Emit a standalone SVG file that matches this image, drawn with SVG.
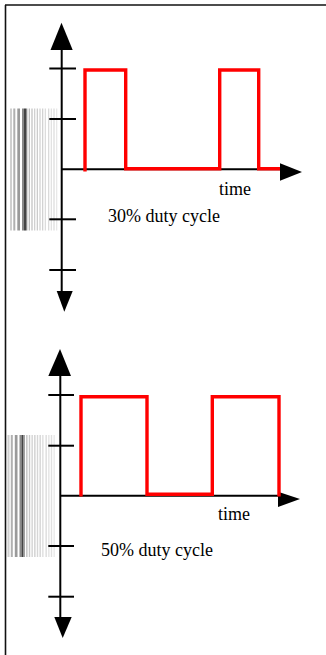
<svg xmlns="http://www.w3.org/2000/svg" width="326" height="655" viewBox="0 0 326 655">
  <style>
    .frame { stroke: #111; stroke-width: 1.6; fill: none; }
    .axis { stroke: #000; stroke-width: 2; fill: none; }
    .head { fill: #000; }
    .wave { stroke: #ff0000; stroke-width: 3.4; fill: none; stroke-linejoin: miter; stroke-linecap: butt; }
    .label { font-family: "Liberation Serif", "Times New Roman", serif; font-size: 18px; fill: #000; }
  </style>
  <defs>
    <!-- grey level strip beside the amplitude axis -->
    <g id="strip">
      <rect x="0" y="0" width="2" height="122" fill="#cfcfcf"/>
      <rect x="3.3" y="0" width="2" height="122" fill="#b0b0b0"/>
      <rect x="7.3" y="0" width="2.7" height="122" fill="#9a9a9a"/>
      <rect x="12" y="0" width="2" height="122" fill="#8a8a8a"/>
      <rect x="14" y="0" width="2" height="122" fill="#444"/>
      <rect x="16" y="0" width="1.3" height="122" fill="#8a8a8a"/>
      <rect x="18.7" y="0" width="1.3" height="122" fill="#bdbdbd"/>
      <rect x="21.3" y="0" width="1.4" height="122" fill="#c8c8c8"/>
      <rect x="24" y="0" width="1.3" height="122" fill="#d0d0d0"/>
      <rect x="26.7" y="0" width="1.3" height="122" fill="#cccccc"/>
      <rect x="29.3" y="0" width="1.4" height="122" fill="#d6d6d6"/>
      <rect x="32" y="0" width="1.3" height="122" fill="#d2d2d2"/>
      <rect x="34.7" y="0" width="1.3" height="122" fill="#dcdcdc"/>
      <rect x="38" y="0" width="1.3" height="122" fill="#dadada"/>
      <rect x="40.7" y="0" width="1.3" height="122" fill="#e2e2e2"/>
      <rect x="43.3" y="0" width="1.4" height="122" fill="#e0e0e0"/>
      <rect x="46" y="0" width="1.3" height="122" fill="#e8e8e8"/>
    </g>
  </defs>

  <!-- outer frame -->
  <g id="frame">
    <line class="frame" x1="5" y1="5" x2="326" y2="5"/>
    <line class="frame" x1="5.5" y1="5" x2="5.5" y2="655"/>
  </g>

  <!-- upper plot: 30% duty cycle -->
  <g id="strip-30">
    <use href="#strip" x="10" y="108.5"/>
  </g>
  <g id="axes-30">
    <line class="axis" x1="61.7" y1="45" x2="61.7" y2="295"/>
    <polygon class="head" points="61.5,22.7 50.5,50 72.7,50"/>
    <polygon class="head" points="64.3,311.7 56.7,291 72.7,291"/>
    <line class="axis" x1="49.3" y1="68.5" x2="76" y2="68.5"/>
    <line class="axis" x1="49.3" y1="119" x2="76" y2="119"/>
    <line class="axis" x1="49.3" y1="219.3" x2="76" y2="219.3"/>
    <line class="axis" x1="49.3" y1="270" x2="76" y2="270"/>
    <line class="axis" x1="61.7" y1="169.3" x2="282" y2="169.3"/>
    <polygon class="head" points="302,172 280,163.3 280,180.7"/>
  </g>
  <g id="wave-30">
    <path class="wave" d="M85,171.5 V70 H125.7 V168.8 H219.7 V70 H258.7 V168.8 H280"/>
  </g>
  <g id="labels-30">
    <text class="label" x="219" y="195">time</text>
    <text class="label" x="108" y="222">30% duty cycle</text>
  </g>

  <!-- lower plot: 50% duty cycle -->
  <g id="strip-50">
    <use href="#strip" x="7.5" y="435"/>
  </g>
  <g id="axes-50">
    <line class="axis" x1="60.3" y1="372" x2="60.3" y2="620"/>
    <polygon class="head" points="60,349 48.3,376 71,376"/>
    <polygon class="head" points="62.7,638 54.3,617 71.7,617"/>
    <line class="axis" x1="48.3" y1="395" x2="74" y2="395"/>
    <line class="axis" x1="48.3" y1="445.7" x2="74" y2="445.7"/>
    <line class="axis" x1="48.3" y1="546" x2="74" y2="546"/>
    <line class="axis" x1="48.3" y1="596.7" x2="74" y2="596.7"/>
    <line class="axis" x1="60.3" y1="495.7" x2="280" y2="495.7"/>
    <polygon class="head" points="300,499 278,491.7 278,507"/>
  </g>
  <g id="wave-50">
    <path class="wave" d="M81,496.5 V396.7 H147 V494.3 H212.3 V396.7 H279 V496.5"/>
  </g>
  <g id="labels-50">
    <text class="label" x="218" y="520">time</text>
    <text class="label" x="101" y="556">50% duty cycle</text>
  </g>
</svg>
